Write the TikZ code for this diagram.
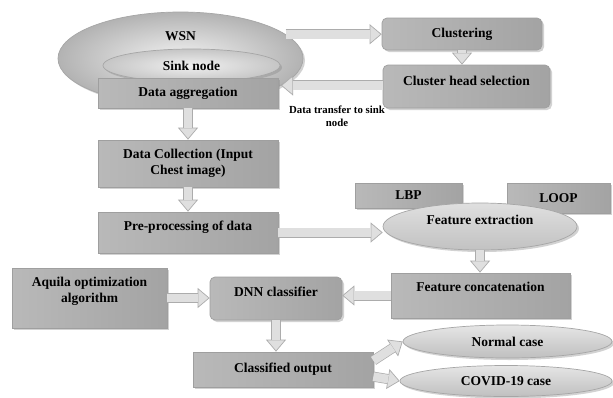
\documentclass[tikz,border=0pt]{standalone}
\usepackage{fontspec}
\setmainfont{Liberation Serif}
\usetikzlibrary{shapes.geometric,shadows,arrows.meta,calc}
\begin{document}
\begin{tikzpicture}[x=1pt,y=-1pt,
  every node/.style={font=\fontsize{13.5}{15.5}\selectfont\bfseries, text=black, align=center, inner sep=0pt},
  shd/.style={drop shadow={shadow xshift=2pt, shadow yshift=-2pt, opacity=0.35, fill=gray}},
  box/.style={draw=gray!75, line width=0.7pt, left color=gray!55, middle color=gray!12, right color=gray!72, shd},
  rbox/.style={box, rounded corners=5pt},
  ell/.style={ellipse, draw=gray!70, line width=0.7pt, shd},
  blk/.style={draw=gray!65, line width=10pt,
    -{Triangle[length=12pt,width=20pt,fill=gray!25,line width=0.7pt]},
    postaction={draw=gray!25, line width=8.6pt, -, shorten >=11.6pt}}
]
\fill[white] (0,0) rectangle (613,397);
\useasboundingbox (0,0) rectangle (613,397);

% WSN group
\node[ell, inner color=gray!10, outer color=gray!60, minimum width=245pt, minimum height=93pt, text depth=44pt] (wsn) at (180.5,58.5) {WSN};
\node[ell, inner color=gray!12, outer color=gray!45, minimum width=177pt, minimum height=33pt] (sink) at (191.5,65.5) {Sink node};
\node[box, minimum width=180pt, minimum height=30pt] (da) at (188,93) {Data aggregation};

% right top
\node[rbox, minimum width=160pt, minimum height=32pt] (cl) at (462,34) {Clustering};
\node[rbox, minimum width=167pt, minimum height=43pt, text depth=11pt] (ch) at (466.5,86.5) {Cluster head selection};
\node[font=\fontsize{10.8}{13}\selectfont\bfseries] (lbl) at (337,116.5) {Data transfer to sink\\node};

% left column
\node[box, minimum width=180pt, minimum height=47pt] (dc) at (188,163.5) {Data Collection (Input\\Chest image)};
\node[box, minimum width=180pt, minimum height=41pt, text depth=13pt] (pp) at (188,232.5) {Pre-processing of data};

% features
\node[box, minimum width=107pt, minimum height=25pt] (lbp) at (408.5,195.5) {LBP};
\node[box, minimum width=103pt, minimum height=30pt] (loop) at (558.5,198) {LOOP};
\node[ell, top color=gray!25, bottom color=gray!48, minimum width=194pt, minimum height=47pt, text depth=13pt] (fe) at (480,226.5) {Feature extraction};
\node[box, minimum width=179pt, minimum height=45pt, text depth=17pt] (fc) at (480.5,295.5) {Feature concatenation};

% bottom
\node[box, minimum width=155pt, minimum height=60pt, text depth=16pt] (aq) at (89.5,298) {Aquila optimization\\algorithm};
\node[rbox, minimum width=132pt, minimum height=43pt, text depth=13pt] (dnn) at (276,298.5) {DNN classifier};
\node[box, minimum width=180pt, minimum height=35pt] (co) at (283,369.5) {Classified output};
\node[ell, top color=gray!20, bottom color=gray!50, minimum width=209pt, minimum height=33pt] (nc) at (507.5,341.5) {Normal case};
\node[ell, top color=gray!20, bottom color=gray!50, minimum width=212pt, minimum height=31pt] (cv) at (506,381) {COVID-19 case};

% arrows
\draw[blk] (wsn.13) -- (wsn.13 -| cl.west);
\draw[blk] (cl.south) -- (cl.south |- ch.north);
\draw[blk] (ch.west |- wsn.-15) -- (wsn.-15);
\draw[blk] (da.south) -- (dc.north);
\draw[blk] (dc.south) -- (pp.north);
\draw[blk] (pp.east) -- (pp.east -| fe.west);
\draw[blk] (fe.south) -- (fe.south |- fc.north);
\draw[blk] (fc.west) -- (fc.west -| dnn.east);
\draw[blk] (aq.east) -- (aq.east -| dnn.west);
\draw[blk] (dnn.south) -- (dnn.south |- co.north);
\draw[blk] ($(co.north east)!0.25!(co.south east)$) -- (nc.west);
\draw[blk] ($(co.north east)!0.7!(co.south east)$) -- (cv.west);
\end{tikzpicture}
\end{document}
